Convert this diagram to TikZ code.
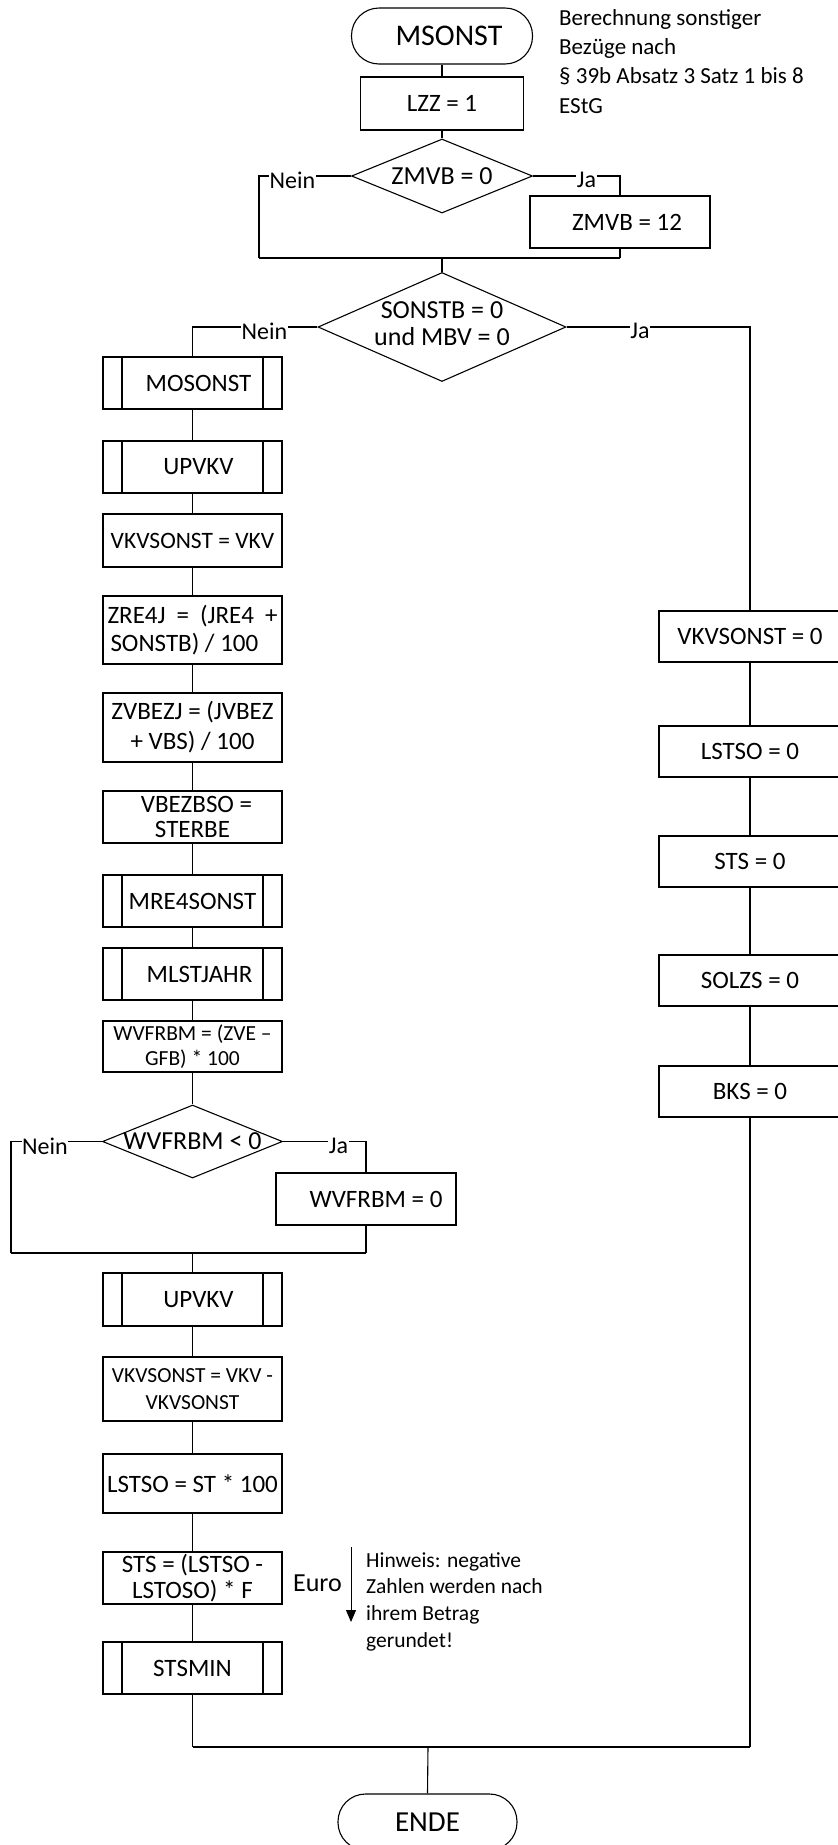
\documentclass[tikz,border=0pt]{standalone}
\usepackage{fontspec}
\setmainfont{Carlito}
\usetikzlibrary{shapes.geometric,arrows.meta}
\newcommand{\myfs}[2]{\fontsize{#1pt}{#2pt}\selectfont}
\begin{document}
\begin{tikzpicture}[x=1pt,y=-1pt,
  conn/.style={draw=black,line width=1.1pt},
  box/.style={draw=black,line width=1.1pt,rectangle,minimum width=179pt,inner sep=1pt,align=center,font=\myfs{25}{27}},
  rbox/.style={box,minimum width=182pt,minimum height=51pt},
  subr/.style={box,minimum height=52pt,path picture={
      \draw[line width=1.1pt] ([xshift=19pt]path picture bounding box.north west) -- ([xshift=19pt]path picture bounding box.south west);
      \draw[line width=1.1pt] ([xshift=-19pt]path picture bounding box.north east) -- ([xshift=-19pt]path picture bounding box.south east);}},
  term/.style={draw=black,line width=1.1pt,rectangle,rounded corners=27.5pt,minimum width=181pt,minimum height=56pt,inner sep=0pt,font=\myfs{30}{32}},
  decis/.style={draw=black,line width=1.1pt,diamond,inner sep=0pt,font=\myfs{26}{27},align=center},
  lbl/.style={fill=white,inner xsep=0.5pt,inner ysep=0pt,font=\myfs{24}{26}},
  note/.style={inner sep=0pt,align=left,anchor=north west}
]
\useasboundingbox (0,0) rectangle (838,1845);
\clip (0,0) rectangle (838,1845);
\fill[white] (0,0) rectangle (838,1845);

% top part
\node[term] (start) at (442,36) {\hspace*{14pt}MSONST};
\node[note,font=\myfs{23}{29.3}] (info) at (559,9) {Berechnung sonstiger\\Bezüge nach\\§ 39b Absatz 3 Satz 1 bis 8\\EStG};
\node[box,minimum width=163pt,minimum height=53pt] (lzz) at (442,103.5) {LZZ = 1};
\node[decis,minimum width=181pt,minimum height=74pt] (d1) at (442,176) {\makebox[0pt]{ZMVB = 0}};
\node[box,minimum width=180pt,minimum height=52pt] (zmvb12) at (620,222) {\hspace*{14pt}ZMVB = 12};
\coordinate (m1w) at (259,258);
\coordinate (m1e) at (620,258);
\coordinate (m1c) at (442,258);
\node[decis,minimum width=248pt,minimum height=109pt] (d2) at (442,327) {\makebox[0pt]{\begin{tabular}{@{}c@{}}SONSTB = 0\\und MBV = 0\end{tabular}}};

% left column
\node[subr] (mosonst) at (192.5,383) {\hspace*{12pt}MOSONST};
\node[subr] (upvkv1) at (192.5,467) {\hspace*{12pt}UPVKV};
\node[box,minimum height=53pt,font=\myfs{23.5}{27}] (vkvvkv) at (192.5,540.5) {VKVSONST = VKV};
\node[box,minimum height=68pt] (zre4j) at (192.5,630) {\makebox[170pt][s]{ZRE4J = (JRE4 +}\\[1pt]\makebox[170pt][l]{\hspace*{3pt}SONSTB) / 100}};
\node[box,minimum height=69pt,font=\myfs{25}{30}] (zvbezj) at (192.5,727.5) {ZVBEZJ = (JVBEZ\\+ VBS) / 100};
\node[box,minimum height=52pt,font=\myfs{25}{25}] (vbezbso) at (192.5,817) {\hspace*{8pt}VBEZBSO =\\STERBE};
\node[subr] (mre4sonst) at (192.5,901) {MRE4SONST};
\node[subr] (mlstjahr) at (192.5,974) {\hspace*{14pt}MLSTJAHR};
\node[box,minimum height=51pt,font=\myfs{21.5}{25}] (wvfrbm1) at (192.5,1046.5) {WVFRBM = (ZVE –\\GFB) * 100};
\node[decis,minimum width=180pt,minimum height=73pt] (d3) at (192.5,1141.5) {\makebox[0pt]{WVFRBM < 0}};
\node[box,minimum width=180pt,minimum height=52pt] (wvfrbm0) at (366,1199) {\hspace*{20pt}WVFRBM = 0};
\coordinate (m3w) at (11,1253);
\coordinate (m3e) at (366,1253);
\coordinate (m3c) at (192.5,1253);
\node[subr,minimum height=53pt] (upvkv2) at (192.5,1299.5) {\hspace*{12pt}UPVKV};
\node[box,minimum height=64pt,font=\myfs{21.5}{27}] (vkvminus) at (192.5,1389) {VKVSONST = VKV -\\VKVSONST};
\node[box,minimum height=59pt] (lstso1) at (192.5,1483.5) {LSTSO = ST * 100};
\node[box,minimum height=52pt,inner sep=0pt,font=\myfs{25}{26}] (sts1) at (192.5,1578) {STS = (LSTSO -\\LSTOSO) * F};
\node[subr] (stsmin) at (192.5,1668) {STSMIN};
\coordinate (m4w) at (192.5,1747);
\coordinate (m4e) at (750,1747);
\coordinate (m4c) at (428,1747);
\node[term,minimum width=179pt,font=\myfs{29}{31}] (ende) at (427.5,1822) {ENDE};

% right column
\node[rbox] (vkv0) at (750,636.5) {VKVSONST = 0};
\node[rbox] (lstso0) at (750,751.5) {LSTSO = 0};
\node[rbox] (sts0) at (750,861.5) {STS = 0};
\node[rbox] (solzs0) at (750,980.5) {SOLZS = 0};
\node[rbox] (bks0) at (750,1091.5) {BKS = 0};

% annotation
\node[inner sep=0pt,font=\myfs{26}{28}] (euro) at (317.5,1583.5) {Euro};
\coordinate (a1) at (351,1547);
\coordinate (a2) at (351,1622);
\node[note,font=\myfs{21.5}{26.7}] (hinweis) at (366,1552) {Hinweis: negative\\Zahlen werden nach\\ihrem Betrag\\gerundet!};

% connectors
\draw[conn] (start) -- (lzz);
\draw[conn] (lzz) -- (d1);
\draw[conn] (d1.west) -| (m1w);
\draw[conn] (d1.east) -| (zmvb12.north);
\draw[conn] (zmvb12.south) -- (m1e);
\draw[conn] (m1w) -- (m1e);
\draw[conn] (m1c) -- (d2.north);
\draw[conn] (d2.west) -| (mosonst.north);
\draw[conn] (d2.east) -| (vkv0.north);
\draw[conn] (mosonst) -- (upvkv1);
\draw[conn] (upvkv1) -- (vkvvkv);
\draw[conn] (vkvvkv) -- (zre4j);
\draw[conn] (zre4j) -- (zvbezj);
\draw[conn] (zvbezj) -- (vbezbso);
\draw[conn] (vbezbso) -- (mre4sonst);
\draw[conn] (mre4sonst) -- (mlstjahr);
\draw[conn] (mlstjahr) -- (wvfrbm1);
\draw[conn] (wvfrbm1) -- (d3);
\draw[conn] (d3.west) -| (m3w);
\draw[conn] (d3.east) -| (wvfrbm0.north);
\draw[conn] (wvfrbm0.south) -- (m3e);
\draw[conn] (m3w) -- (m3e);
\draw[conn] (m3c) -- (upvkv2.north);
\draw[conn] (upvkv2) -- (vkvminus);
\draw[conn] (vkvminus) -- (lstso1);
\draw[conn] (lstso1) -- (sts1);
\draw[conn] (sts1) -- (stsmin);
\draw[conn] (stsmin.south) -- (m4w);
\draw[conn] (m4w) -- (m4e);
\draw[conn] (vkv0) -- (lstso0);
\draw[conn] (lstso0) -- (sts0);
\draw[conn] (sts0) -- (solzs0);
\draw[conn] (solzs0) -- (bks0);
\draw[conn] (bks0.south) -- (m4e);
\draw[conn] (m4c) -- (ende.north);
\draw[conn,line width=1pt,-{Triangle[length=12pt,width=10pt]}] (a1) -- (a2);

% branch labels
\node[lbl] (nein1) at (292.5,180) {Nein};
\node[lbl] (ja1) at (586.5,180) {Ja};
\node[lbl] (nein2) at (264.5,331) {Nein};
\node[lbl] (ja2) at (640,331) {Ja};
\node[lbl] (nein3) at (45,1146) {Nein};
\node[lbl] (ja3) at (338.5,1146) {Ja};
\end{tikzpicture}
\end{document}
